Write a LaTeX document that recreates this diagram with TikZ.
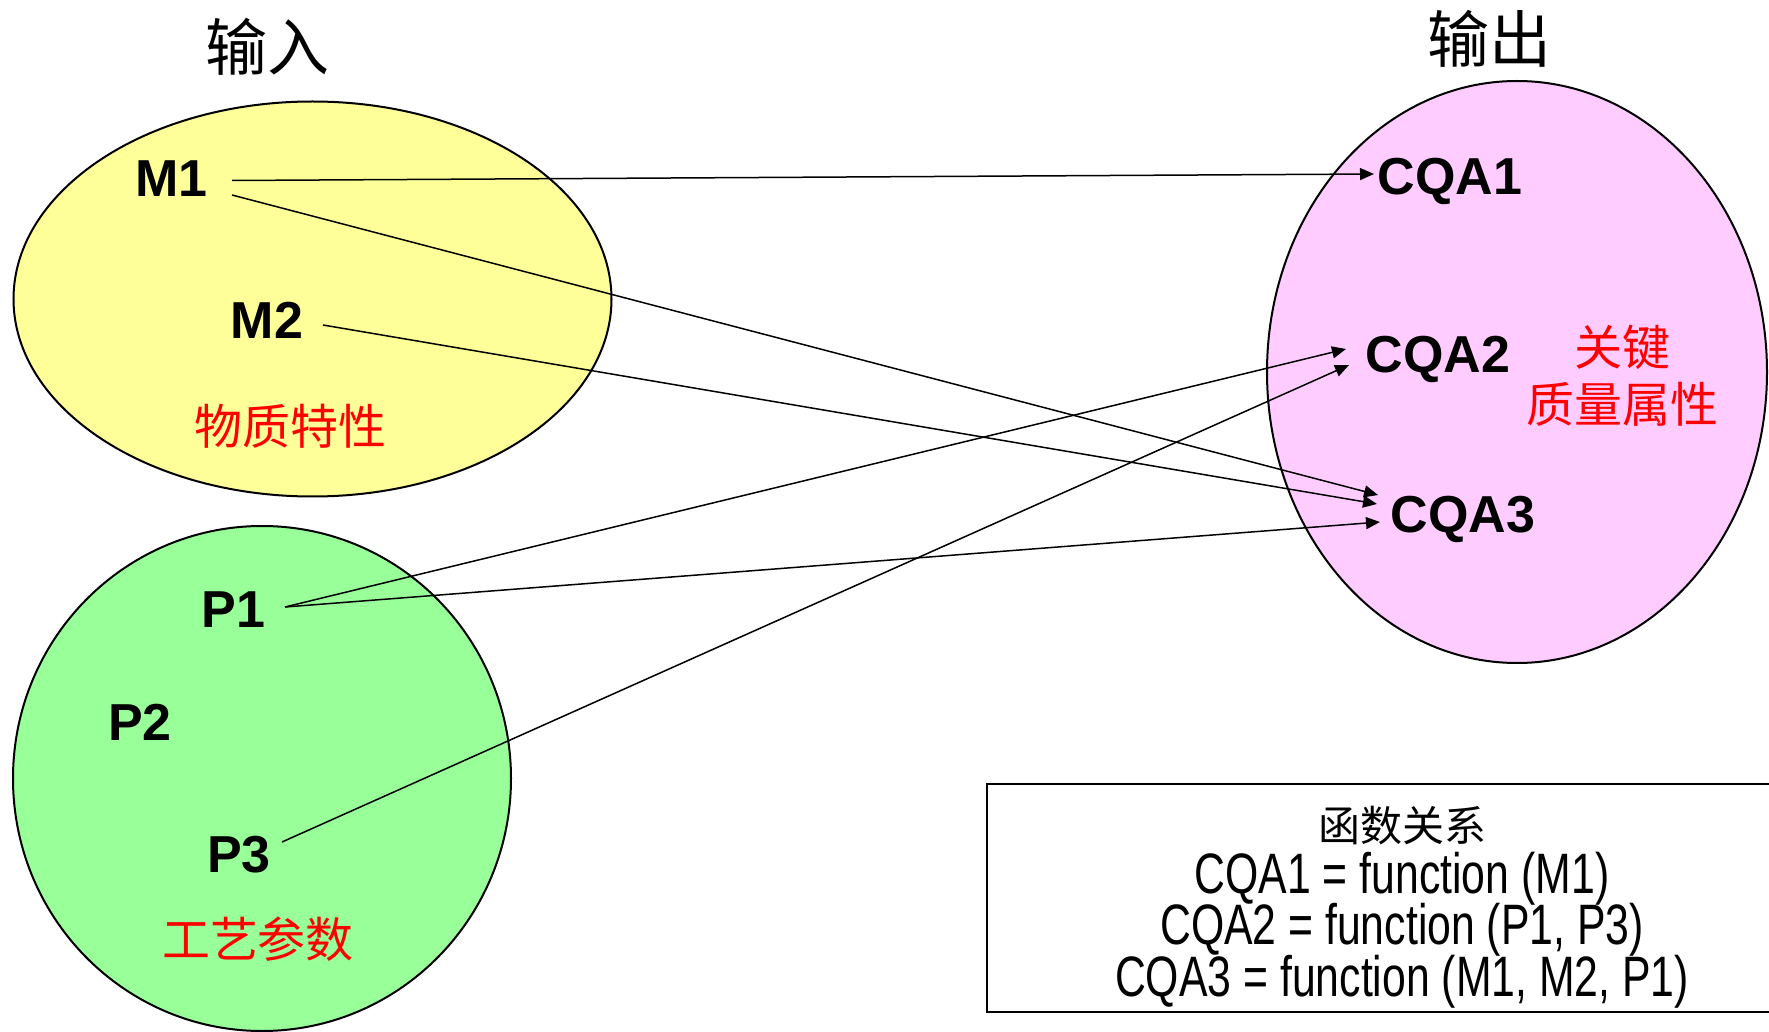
\documentclass[tikz,border=0pt]{standalone}
\usepackage{fontspec}
\setmainfont{Liberation Sans}
\newfontfamily\cjk{Noto Sans CJK SC}
\newfontfamily\narrow[FakeStretch=0.75]{Liberation Sans}
\newcommand\tightlines{\setlength{\lineskiplimit}{-100pt}}
\usetikzlibrary{arrows.meta}
\definecolor{matfill}{HTML}{FFFF99}
\definecolor{procfill}{HTML}{99FF99}
\definecolor{cqafill}{HTML}{FFCCFF}
\definecolor{labelred}{HTML}{FF0000}
\begin{document}
\begin{tikzpicture}[x=0.5pt,y=-0.5pt,
  region/.style={draw=black,line width=1pt},
  var/.style={font=\fontsize{26}{30}\selectfont\bfseries,inner sep=0pt},
  title/.style={font=\cjk\fontsize{31}{36}\selectfont,inner sep=0pt},
  group/.style={font=\cjk\fontsize{24}{29}\selectfont,text=labelred,inner sep=0pt},
  rel/.style={font={\narrow\fontsize{28.5}{25.8}\selectfont\tightlines},
              inner sep=0pt,align=center},
  link/.style={line width=0.75pt,-{Triangle[length=7pt,width=6pt]}}]
\useasboundingbox (0,0) rectangle (1769,1032);

% input and output regions
\fill[matfill] (312.5,299) ellipse [x radius=299, y radius=197.5];
\draw[region] (312.5,299) ellipse [x radius=299, y radius=197.5];
\fill[procfill] (262,778.5) ellipse [x radius=249, y radius=252.5];
\draw[region] (262,778.5) ellipse [x radius=249, y radius=252.5];
\fill[cqafill] (1517,372) ellipse [x radius=250, y radius=291];
\draw[region] (1517,372) ellipse [x radius=250, y radius=291];

% headings
\node[title] (in)  at (267,47) {输入};
\node[title] (out) at (1489,39) {输出};

% variables
\node[var] (M1) at (171.5,179) {M1};
\node[var] (M2) at (267,320) {M2};
\node[var] (P1) at (233.5,610) {P1};
\node[var] (P2) at (140,722) {P2};
\node[var] (P3) at (239,855) {P3};
\node[var] (C1) at (1450,181) {CQA1};
\node[var] (C2) at (1438,359) {CQA2};
\node[var] (C3) at (1463,519) {CQA3};

% group labels
\node[group] (mat)  at (290,426.5) {物质特性};
\node[group] (proc) at (258,939) {工艺参数};
\node[group] (cqa1) at (1622,347.5) {关键};
\node[group] (cqa2) at (1622,404) {质量属性};

% connector end points
\coordinate (m1a) at (232,180.5);
\coordinate (m1b) at (232,195);
\coordinate (m2a) at (323,325);
\coordinate (p1a) at (285,607);
\coordinate (p3a) at (282,842);
\coordinate (c1in) at (1374,174);
\coordinate (c2inA) at (1346,349);
\coordinate (c2inB) at (1349,365);
\coordinate (c3inA) at (1378,495);
\coordinate (c3inB) at (1377,504);
\coordinate (c3inC) at (1380,522);

\draw[link] (m1a) -- (c1in);
\draw[link] (m1b) -- (c3inA);
\draw[link] (m2a) -- (c3inB);
\draw[link] (p1a) -- (c2inA);
\draw[link] (p1a) -- (c3inC);
\draw[link] (p3a) -- (c2inB);

% relation box
\draw[line width=1pt] (987,784) rectangle (1800,1012);
\node[rel,anchor=north] (fr) at (1402,806)
  {{\cjk\fontsize{21}{25.8}\selectfont 函数关系}\\
   CQA1 = function (M1)\\
   CQA2 = function (P1, P3)\\
   CQA3 = function (M1, M2, P1)};
\end{tikzpicture}
\end{document}
